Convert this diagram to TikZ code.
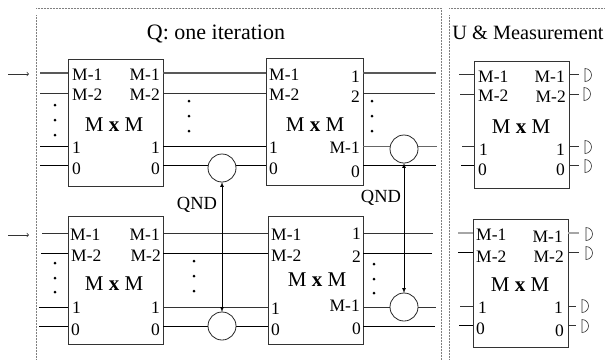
\documentclass[tikz,border=0pt]{standalone}
\usepackage{fontspec}
\setmainfont{Liberation Serif}
\usetikzlibrary{shapes.geometric}
\usetikzlibrary{calc}

\tikzset{
  mmbox/.style={draw=black!80, line width=0.9pt, inner sep=0pt, outer sep=0pt, minimum width=95pt, minimum height=127pt},
  portlbl/.style={inner sep=0pt, font=\fontsize{17.5}{19}\selectfont},
  sizelbl/.style={inner sep=0pt, font=\fontsize{21}{23}\selectfont},
  titlelbl/.style={inner sep=0pt, font=\fontsize{22}{24}\selectfont},
  wire/.style={line width=0.7pt, draw=black!80},
  wirethick/.style={line width=1.4pt, draw=black!65},
  wirelight/.style={line width=1.1pt, draw=black!35},
  qndcircle/.style={circle, draw=black!85, line width=0.8pt, fill=white, inner sep=0pt, outer sep=0pt, minimum size=28pt},
  dotmark/.style={circle, fill=black, inner sep=0pt, minimum size=3pt},
  detector/.style={semicircle, draw=black!80, line width=0.6pt, inner sep=0pt, outer sep=0pt, minimum size=6.5pt, shape border rotate=270, anchor=chord center},
  frameline/.style={densely dotted, line width=0.5pt, draw=black!50}
}

\begin{document}
\begin{tikzpicture}[x=1pt, y=-1pt]
  \useasboundingbox (0,0) rectangle (605,360);

  % dotted frames
  \coordinate (frameA) at (36,15);
  \coordinate (frameB) at (36,8);
  \coordinate (frameC) at (441,8);
  \coordinate (frameD) at (441,360);
  \coordinate (frameE) at (36,360);
  \coordinate (frameF) at (449,15);
  \coordinate (frameG) at (449,360);
  \coordinate (frameH) at (449,8);
  \coordinate (frameI) at (605,8);
  \draw[frameline] (frameB) -- (frameC) -- (frameD);
  \draw[frameline] (frameA) -- (frameE);
  \draw[frameline] (frameH) -- (frameI);
  \draw[frameline] (frameF) -- (frameG);

  \node[titlelbl] (titleQ) at (216,34) {Q: one iteration};
  \node[titlelbl, font=\fontsize{20.3}{23}\selectfont] (titleU) at (528,33) {U \& Measurement};

  % the six boxes
  \node[mmbox] (boxA) at (115.5,122.5) {};
  \node[mmbox, minimum width=97pt] (boxB) at (314.5,121.5) {};
  \node[mmbox, minimum height=128pt] (boxC) at (115.5,280) {};
  \node[mmbox, minimum height=128pt] (boxD) at (315.5,280) {};
  \node[mmbox] (boxU) at (521.5,124.5) {};
  \node[mmbox, minimum height=128pt] (boxV) at (520.5,283) {};

  % free ends of the wires
  \coordinate (inA1) at (40,73);
  \coordinate (inA2) at (40,93);
  \coordinate (inA3) at (40,146);
  \coordinate (inA4) at (40,165);
  \coordinate (outB1) at (436,73);
  \coordinate (outB2) at (435,93);
  \coordinate (outB3) at (437,146);
  \coordinate (outB4) at (436,165);
  \coordinate (inC1) at (42,233);
  \coordinate (inC2) at (41,253);
  \coordinate (inC3) at (39,307);
  \coordinate (inC4) at (39,326);
  \coordinate (outD1) at (433,233);
  \coordinate (outD2) at (432,253);
  \coordinate (outD3) at (436,307);
  \coordinate (outD4) at (435,326);
  \coordinate (inU1) at (459,74);
  \coordinate (inU2) at (460,94);
  \coordinate (inU3) at (462,146);
  \coordinate (inU4) at (461,165);
  \coordinate (outU1) at (579,74);
  \coordinate (outU2) at (579,94);
  \coordinate (outU3) at (579,146);
  \coordinate (outU4) at (579,165);
  \coordinate (inV1) at (458,233);
  \coordinate (inV2) at (458,252);
  \coordinate (inV3) at (460,306);
  \coordinate (inV4) at (459,325);
  \coordinate (outV1) at (579,233);
  \coordinate (outV2) at (579,252);
  \coordinate (outV3) at (576,306);
  \coordinate (outV4) at (576,325);

  % upper row
  \draw[wirethick] (inA1) -- (inA1 -| boxA.west);
  \draw[wire] (inA2) -- (inA2 -| boxA.west);
  \draw[wire, draw=black] (inA3) -- (inA3 -| boxA.west);
  \draw[wire, draw=black] (inA4) -- (inA4 -| boxA.west);
  \draw[wirethick] (inA1 -| boxA.east) -- (inA1 -| boxB.west);
  \draw[wire] (inA2 -| boxA.east) -- (inA2 -| boxB.west);
  \draw[wire, draw=black] (inA3 -| boxA.east) -- (inA3 -| boxB.west);
  \draw[wire, draw=black] (inA4 -| boxA.east) -- (inA4 -| boxB.west);
  \draw[wirethick] (outB1 -| boxB.east) -- (outB1);
  \draw[wire] (outB2 -| boxB.east) -- (outB2);
  \draw[wire, draw=black!60] (outB3 -| boxB.east) -- (outB3);
  \draw[wire, draw=black] (outB4 -| boxB.east) -- (outB4);

  % lower row
  \draw[wire] (inC1) -- (inC1 -| boxC.west);
  \draw[wire, draw=black] (inC2) -- (inC2 -| boxC.west);
  \draw[wire, draw=black] (inC3) -- (inC3 -| boxC.west);
  \draw[wire, draw=black] (inC4) -- (inC4 -| boxC.west);
  \draw[wire] (inC1 -| boxC.east) -- (inC1 -| boxD.west);
  \draw[wire, draw=black] (inC2 -| boxC.east) -- (inC2 -| boxD.west);
  \draw[wire] (inC3 -| boxC.east) -- (inC3 -| boxD.west);
  \draw[wire, draw=black] (inC4 -| boxC.east) -- (inC4 -| boxD.west);
  \draw[wire] (outD1 -| boxD.east) -- (outD1);
  \draw[wire, draw=black] (outD2 -| boxD.east) -- (outD2);
  \draw[wire] (outD3 -| boxD.east) -- (outD3);
  \draw[wire, draw=black] (outD4 -| boxD.east) -- (outD4);

  % wires of the two right boxes
  \draw[wire] (inU1) -- (inU1 -| boxU.west);
  \draw[wire] (inU2) -- (inU2 -| boxU.west);
  \draw[wire] (inU3) -- (inU3 -| boxU.west);
  \draw[wire, draw=black] (inU4) -- (inU4 -| boxU.west);
  \draw[wire] (outU1 -| boxU.east) -- (outU1);
  \draw[wire] (outU2 -| boxU.east) -- (outU2);
  \draw[wire] (outU3 -| boxU.east) -- (outU3);
  \draw[wire] (outU4 -| boxU.east) -- (outU4);
  \draw[wirelight] (inV1) -- (inV1 -| boxV.west);
  \draw[wire, draw=black] (inV2) -- (inV2 -| boxV.west);
  \draw[wire] (inV3) -- (inV3 -| boxV.west);
  \draw[wire, draw=black] (inV4) -- (inV4 -| boxV.west);
  \draw[wirelight] (outV1 -| boxV.east) -- (outV1);
  \draw[wire] (outV2 -| boxV.east) -- (outV2);
  \draw[wire] (outV3 -| boxV.east) -- (outV3);
  \draw[wire] (outV4 -| boxV.east) -- (outV4);

  % input arrows
  \coordinate (arrowA) at (8,74);
  \coordinate (arrowAend) at (29,74);
  \coordinate (arrowC) at (8,235);
  \coordinate (arrowCend) at (29,235);
  \draw[->, wire] (arrowA) -- (arrowAend);
  \draw[->, wire] (arrowC) -- (arrowCend);

  % QND couplings
  \node[qndcircle] (qndAtop) at (222,168) {};
  \node[qndcircle] (qndAbot) at (222,326) {};
  \node[qndcircle] (qndBtop) at (404,149) {};
  \node[qndcircle] (qndBbot) at (404,307) {};
  \draw[<->, >=latex, wire, draw=black] (qndAtop) -- (qndAbot);
  \draw[<->, >=latex, wire, draw=black] (qndBtop) -- (qndBbot);
  \node[portlbl, font=\fontsize{18.5}{20}\selectfont] (qndA) at (197,205) {QND};
  \node[portlbl, font=\fontsize{18.5}{20}\selectfont] (qndB) at (381,198) {QND};

  % dots between the wires
  \foreach \y in {105,120,135} \node[dotmark] (dotA\y) at (55,\y) {};
  \foreach \y in {101,116,131} \node[dotmark] (dotB\y) at (189,\y) {};
  \foreach \y in {101,116,131} \node[dotmark] (dotE\y) at (372,\y) {};
  \foreach \y in {263,278,292} \node[dotmark] (dotC\y) at (55,\y) {};
  \foreach \y in {261,276,291} \node[dotmark] (dotD\y) at (194,\y) {};
  \foreach \y in {264,279,293} \node[dotmark] (dotF\y) at (374,\y) {};

  % labels of boxA
  \node[portlbl, anchor=west] (lblA1) at (72,75) {M-1};
  \node[portlbl, anchor=west] (lblA2) at (72,95) {M-2};
  \node[portlbl, anchor=west] (lblA3) at (72,148) {1};
  \node[portlbl, anchor=west] (lblA4) at (72,169) {0};
  \node[portlbl, anchor=east] (lblA5) at (160,75) {M-1};
  \node[portlbl, anchor=east] (lblA6) at (160,95) {M-2};
  \node[portlbl, anchor=east] (lblA7) at (160,148) {1};
  \node[portlbl, anchor=east] (lblA8) at (160,169) {0};
  \node[sizelbl] (sizeA) at (114,125) {M \textbf{x} M};

  % labels of boxB
  \node[portlbl, anchor=west] (lblB1) at (269,75) {M-1};
  \node[portlbl, anchor=west] (lblB2) at (269,95) {M-2};
  \node[portlbl, anchor=west] (lblB3) at (269,148) {1};
  \node[portlbl, anchor=west] (lblB4) at (269,169) {0};
  \node[portlbl, anchor=east] (lblB5) at (360,77) {1};
  \node[portlbl, anchor=east] (lblB6) at (360,97) {2};
  \node[portlbl, anchor=east] (lblB7) at (360,148) {M-1};
  \node[portlbl, anchor=east] (lblB8) at (360,172) {0};
  \node[sizelbl] (sizeB) at (315,125) {M \textbf{x} M};

  % labels of boxC
  \node[portlbl, anchor=west] (lblC1) at (70,235) {M-1};
  \node[portlbl, anchor=west] (lblC2) at (71,256) {M-2};
  \node[portlbl, anchor=west] (lblC3) at (72,308) {1};
  \node[portlbl, anchor=west] (lblC4) at (71,330) {0};
  \node[portlbl, anchor=east] (lblC5) at (160,235) {M-1};
  \node[portlbl, anchor=east] (lblC6) at (161,256) {M-2};
  \node[portlbl, anchor=east] (lblC7) at (160,308) {1};
  \node[portlbl, anchor=east] (lblC8) at (160,330) {0};
  \node[sizelbl] (sizeC) at (114,284) {M \textbf{x} M};

  % labels of boxD
  \node[portlbl, anchor=west] (lblD1) at (271,235) {M-1};
  \node[portlbl, anchor=west] (lblD2) at (271,256) {M-2};
  \node[portlbl, anchor=west] (lblD3) at (271,309) {1};
  \node[portlbl, anchor=west] (lblD4) at (271,330) {0};
  \node[portlbl, anchor=east] (lblD5) at (361,234) {1};
  \node[portlbl, anchor=east] (lblD6) at (361,257) {2};
  \node[portlbl, anchor=east] (lblD7) at (360,306) {M-1};
  \node[portlbl, anchor=east] (lblD8) at (361,329) {0};
  \node[sizelbl] (sizeD) at (317,280) {M \textbf{x} M};

  % labels of boxU
  \node[portlbl, anchor=west] (lblU1) at (478,77) {M-1};
  \node[portlbl, anchor=west] (lblU2) at (478,96) {M-2};
  \node[portlbl, anchor=west] (lblU3) at (479,150) {1};
  \node[portlbl, anchor=west] (lblU4) at (478,170) {0};
  \node[portlbl, anchor=east] (lblU5) at (565,77) {M-1};
  \node[portlbl, anchor=east] (lblU6) at (566,97) {M-2};
  \node[portlbl, anchor=east] (lblU7) at (565,150) {1};
  \node[portlbl, anchor=east] (lblU8) at (565,170) {0};
  \node[sizelbl] (sizeU) at (521,127) {M \textbf{x} M};

  % labels of boxV
  \node[portlbl, anchor=west] (lblV1) at (476,235) {M-1};
  \node[portlbl, anchor=west] (lblV2) at (476,257) {M-2};
  \node[portlbl, anchor=west] (lblV3) at (478,308) {1};
  \node[portlbl, anchor=west] (lblV4) at (476,329) {0};
  \node[portlbl, anchor=east] (lblV5) at (563,237) {M-1};
  \node[portlbl, anchor=east] (lblV6) at (564,257) {M-2};
  \node[portlbl, anchor=east] (lblV7) at (563,308) {1};
  \node[portlbl, anchor=east] (lblV8) at (564,331) {0};
  \node[sizelbl] (sizeV) at (520,285) {M \textbf{x} M};

  % detectors
  \node[detector] (detU1) at (585,75) {};
  \node[detector] (detU2) at (584,94) {};
  \node[detector] (detU3) at (585,147) {};
  \node[detector] (detU4) at (585,166) {};
  \node[detector] (detV1) at (586,234) {};
  \node[detector] (detV2) at (586,253) {};
  \node[detector] (detV3) at (582,306) {};
  \node[detector] (detV4) at (582,326) {};
\end{tikzpicture}
\end{document}
